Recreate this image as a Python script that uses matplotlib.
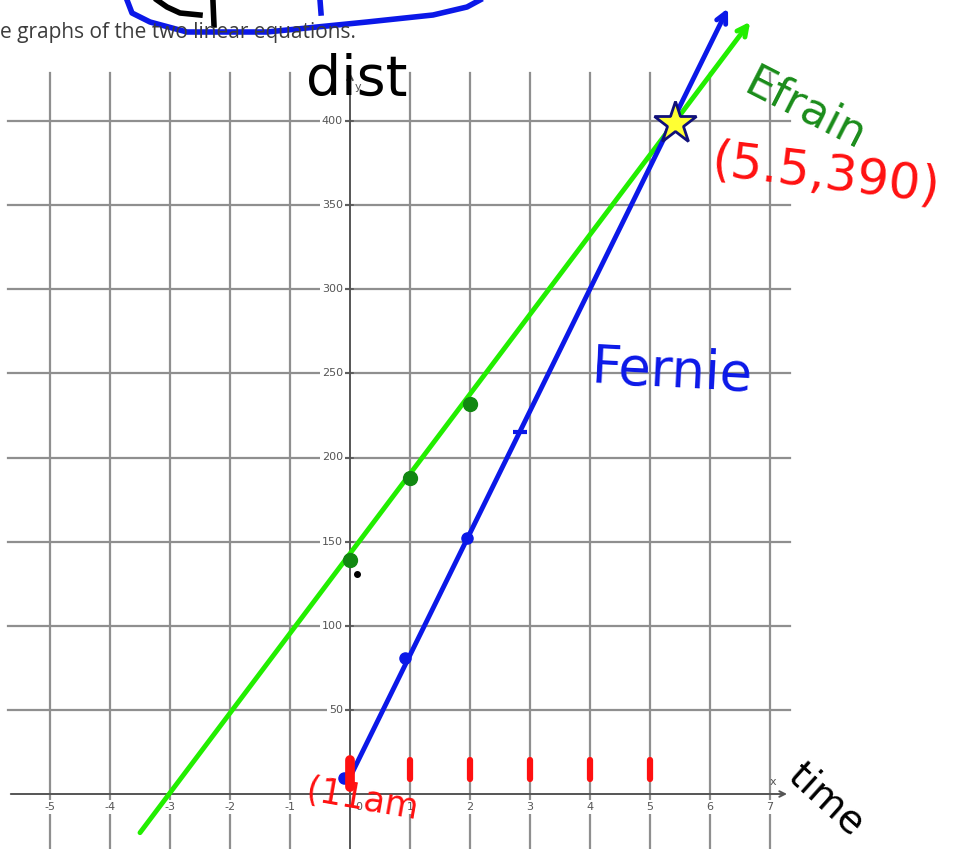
import matplotlib
matplotlib.use("Agg")
import matplotlib.pyplot as plt

# grid / axis values
x_ticks = [-5, -4, -3, -2, -1, 0, 1, 2, 3, 4, 5, 6, 7]
y_ticks = [0, 50, 100, 150, 200, 250, 300, 350, 400]

# lines (time in hours, distance)
efrain_x = [-3.5, 6.67]
efrain_y = [-23, 459]
fernie_x = [0, 6.3]
fernie_y = [10, 467]

# hand-drawn points
efrain_pts_x = [0, 1, 2]
efrain_pts_y = [139, 188, 232]
fernie_pts_x = [-0.1, 0.92, 1.95]
fernie_pts_y = [9.5, 81, 152]
fernie_tick_x = [2.83]
fernie_tick_y = [215]

meet_x = 5.42
meet_y = 399

hour_marks = [0, 1, 2, 3, 4, 5]

W, H = 957, 849
fig = plt.figure(figsize=(W / 100, H / 100), dpi=100)
ax = fig.add_axes([0, 0, 1, 1])
ax.set_xlim(-350 / 60, (W - 350) / 60)
ax.set_ylim(-(H - 794) / 1.6825, 794 / 1.6825)
ax.axis("off")

grid_c = "#8f8f8f"
x_left, x_right = -5.7, 7.33
y_top, y_bot = 428.5, -40

# grid
for xv in x_ticks:
    if xv == 0:
        continue
    ax.plot([xv, xv], [y_bot, y_top], color=grid_c, lw=1.6, zorder=1)
for yv in y_ticks:
    if yv == 0:
        continue
    ax.plot([x_left, x_right], [yv, yv], color=grid_c, lw=1.6, zorder=1)

# axes
ax.annotate("", xy=(x_right, 0), xytext=(x_left, 0),
            arrowprops=dict(arrowstyle="->", color="#555555", lw=1.4), zorder=1.5)
ax.annotate("", xy=(0, y_top + 2), xytext=(0, y_bot),
            arrowprops=dict(arrowstyle="->", color="#555555", lw=1.4), zorder=1.5)
ax.text(7.05, 4, "x", fontsize=8, color="#555555", ha="center", va="bottom", zorder=2)
ax.text(0.13, 420, "y", fontsize=8, color="#555555", ha="center", va="center", zorder=2)

lab_box = dict(facecolor="white", edgecolor="none", pad=1.5)
for xv in x_ticks:
    if xv == 0:
        ax.text(0.15, -7.7, "0", fontsize=8, color="#555555", ha="center", va="center", zorder=2)
        continue
    ax.text(xv, -7.7, str(xv), fontsize=8, color="#555555", ha="center", va="center",
            bbox=lab_box, zorder=2)
for yv in y_ticks:
    if yv == 0:
        continue
    ax.plot([-0.12, 0.05], [yv, yv], color="#555555", lw=1.2, zorder=2)
    ax.text(-0.12, yv, str(yv), fontsize=8, color="#555555", ha="right", va="center",
            bbox=lab_box, zorder=2)

# the two lines
ax.annotate("", xy=(efrain_x[1], efrain_y[1]), xytext=(efrain_x[0], efrain_y[0]),
            arrowprops=dict(arrowstyle="->", color="#22ee00", lw=3.5,
                            shrinkA=0, shrinkB=0, mutation_scale=18), zorder=3)
ax.annotate("", xy=(fernie_x[1], fernie_y[1]), xytext=(fernie_x[0], fernie_y[0]),
            arrowprops=dict(arrowstyle="->", color="#0b18e8", lw=3.5,
                            shrinkA=0, shrinkB=0, mutation_scale=18), zorder=3)

ax.plot(efrain_pts_x, efrain_pts_y, "o", color="#118811", ms=10, zorder=4)
ax.plot(fernie_pts_x, fernie_pts_y, "o", color="#0b18e8", ms=8, zorder=4)
ax.plot(fernie_tick_x, fernie_tick_y, "_", color="#0b18e8", ms=10, mew=3, zorder=4)
ax.plot([0.12], [131], "o", color="black", ms=4, zorder=4)

ax.plot([meet_x], [meet_y], "*", ms=32, mfc="#ffff33", mec="#10107a", mew=2, zorder=5)

# red hour marks
for h in hour_marks:
    lw = 7 if h == 0 else 4.5
    y0 = 4 if h == 0 else 9
    ax.plot([h, h], [y0, 20], color="#ff1010", lw=lw, solid_capstyle="round", zorder=5)

# handwritten annotations (figure pixels)
def fpx(x, y):
    return x / W, 1 - y / H

hand = dict(transform=fig.transFigure, ha="center", va="center", zorder=6)
fig.text(*fpx(357, 80), "dist", fontsize=40, color="black", **hand)
fig.text(*fpx(805, 110), "Efrain", fontsize=32, color="#1a8c1a", rotation=-27, **hand)
fig.text(*fpx(826, 175), "(5.5,390)", fontsize=36, color="#ff1010", rotation=-7, **hand)
fig.text(*fpx(672, 372), "Fernie", fontsize=38, color="#0b18e8", rotation=-3, **hand)
fig.text(*fpx(826, 800), "time", fontsize=28, color="black", rotation=-42, **hand)
fig.text(*fpx(362, 800), "(11am", fontsize=25, color="#ff1010", rotation=-10, **hand)

# top text and scribbles
fig.text(0, 1 - 38 / H, "e graphs of the two linear equations.", fontsize=15,
         family="Open Sans", color="#3c3c3c", ha="left", va="baseline")
scr_x = [127, 132, 150, 187, 267, 367, 433, 467, 480]
scr_y = [0, 13, 22, 32, 32, 22, 15, 7, 0]
fig.lines.append(plt.Line2D([x / W for x in scr_x], [1 - y / H for y in scr_y],
                            transform=fig.transFigure, color="#0b18e8", lw=4))
fig.lines.append(plt.Line2D([157 / W, 167 / W, 180 / W, 200 / W],
                            [1, 1 - 7 / H, 1 - 13 / H, 1 - 15 / H],
                            transform=fig.transFigure, color="black", lw=4))
fig.lines.append(plt.Line2D([213 / W, 214 / W], [1 - 2 / H, 1 - 25 / H],
                            transform=fig.transFigure, color="black", lw=4))
fig.lines.append(plt.Line2D([320 / W, 321 / W], [1, 1 - 13 / H],
                            transform=fig.transFigure, color="#0b18e8", lw=4))

fig.savefig("out.png", dpi=100)
